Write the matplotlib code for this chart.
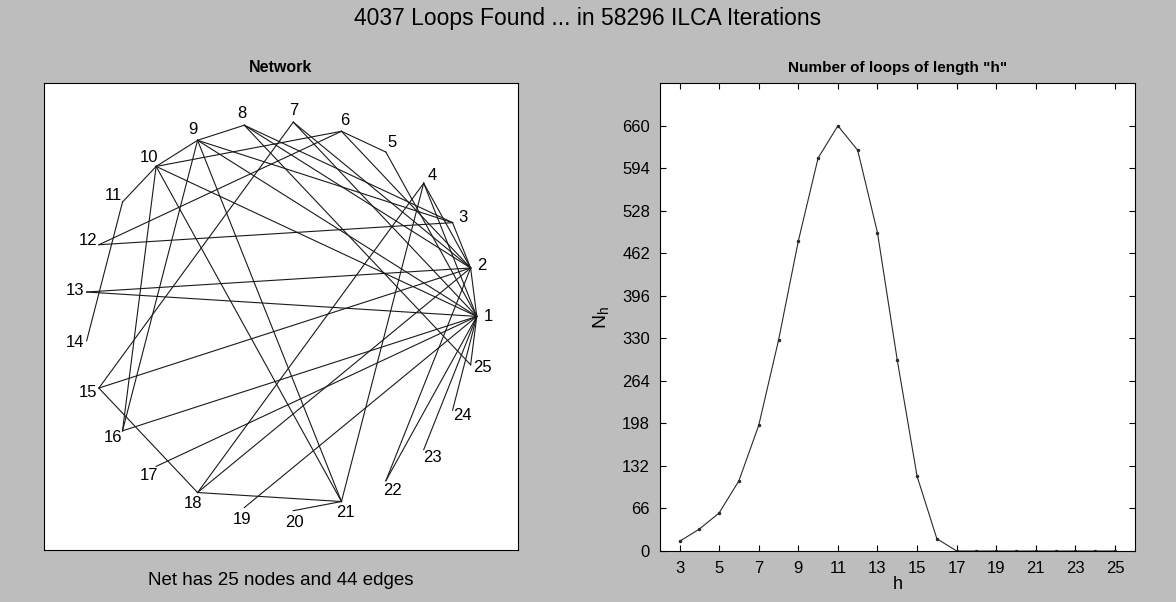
import numpy as np
import matplotlib.pyplot as plt

plt.rcParams['font.family'] = ['Liberation Sans', 'DejaVu Sans']

# loop length distribution
h_vals = list(range(3, 26))
n_loops = [15, 34, 59, 109, 195, 327, 481, 610, 660, 622, 494, 296, 116, 19,
           0, 0, 0, 0, 0, 0, 0, 0, 0]

# network: 25 nodes on a circle, 44 edges
n_nodes = 25
edges = [
    (1, 2), (2, 3), (5, 6), (8, 9), (9, 10), (10, 11), (11, 14), (18, 21), (20, 21),
    (12, 6), (12, 3), (13, 2), (13, 1), (15, 7), (15, 2), (15, 18), (16, 10),
    (16, 9), (16, 1), (17, 1), (18, 4), (18, 2), (19, 1), (21, 4), (21, 10),
    (21, 9), (22, 1), (22, 2), (23, 1), (24, 1), (25, 1), (25, 8),
    (10, 6), (10, 1), (9, 1), (8, 3), (8, 2), (7, 2), (6, 2), (5, 1), (4, 2),
    (4, 1), (9, 3), (7, 1),
]

title = '4037 Loops Found ... in 58296 ILCA Iterations'
bg = '#bdbdbd'

fig = plt.figure(figsize=(11.76, 6.02), dpi=100, facecolor=bg)
fig.text(0.5, 0.97, title, ha='center', va='center', fontsize=16.5)

# left panel: network drawing
ax1 = fig.add_axes([0.0374, 0.0864, 0.403, 0.776])
ang = 2 * np.pi * np.arange(n_nodes) / n_nodes
xs, ys = np.cos(ang), np.sin(ang)
for a, b in edges:
    ax1.plot([xs[a - 1], xs[b - 1]], [ys[a - 1], ys[b - 1]], color='#1a1a1a', lw=0.8)
for i in range(n_nodes):
    ax1.text(xs[i] * 1.06, ys[i] * 1.06, str(i + 1), ha='center', va='center', fontsize=12)
ax1.set_xlim(-1.21, 1.21)
ax1.set_ylim(-1.2, 1.2)
ax1.set_xticks([])
ax1.set_yticks([])
ax1.set_title('Network', fontsize=11.5, fontweight='bold', pad=8)
ax1.set_xlabel('Net has 25 nodes and 44 edges', fontsize=13.5, labelpad=16)

# right panel: number of loops vs length
ax2 = fig.add_axes([0.561, 0.0847, 0.404, 0.777])
ax2.plot(h_vals, n_loops, color='#2a2a2a', lw=0.8, marker='.', markersize=3)
ax2.set_xlim(2, 26)
ax2.set_ylim(0, 726)
ax2.set_xticks(range(3, 26, 2))
ax2.set_yticks(range(0, 661, 66))
ax2.tick_params(direction='in', top=True, right=True, labelsize=12, length=4, pad=7)
ax2.set_title('Number of loops of length "h"', fontsize=11, fontweight='bold', pad=8)
ax2.set_xlabel('h', fontsize=13, labelpad=0)
ax2.set_ylabel('$\\mathregular{N_h}$', fontsize=14, labelpad=8)

plt.savefig('out.png', dpi=100, facecolor=bg)
